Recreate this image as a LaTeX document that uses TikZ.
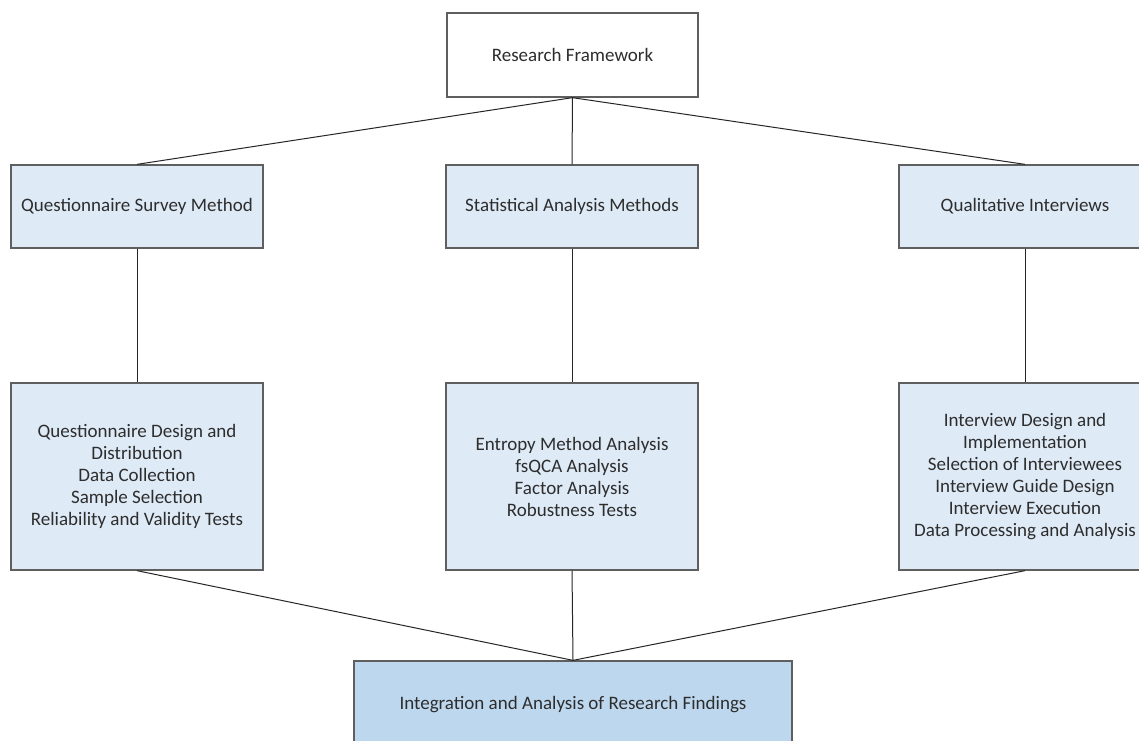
\documentclass[tikz,border=0pt]{standalone}
\usepackage{fontspec}
\setmainfont{Carlito}
\definecolor{lightbox}{RGB}{222,234,246}
\definecolor{darkbox}{RGB}{189,215,238}
\definecolor{edgegray}{RGB}{95,95,95}
\definecolor{txt}{RGB}{45,45,45}
\begin{document}
\begin{tikzpicture}[x=1pt,y=-1pt,
  box/.style={draw=edgegray,line width=1.3pt,fill=lightbox,minimum width=252pt,
    align=center,text=txt,font=\fontsize{19}{22}\selectfont,inner sep=0pt},
  topbox/.style={box,fill=white,minimum width=251pt,minimum height=84pt},
  midbox/.style={box,minimum height=83pt},
  detbox/.style={box,minimum height=187pt},
  endbox/.style={box,fill=darkbox,minimum width=438pt,minimum height=88pt},
  link/.style={draw=black!85,line width=1pt}]
\useasboundingbox (0,0) rectangle (1139,740);
\clip (0,0) rectangle (1139,740);
\fill[white] (0,0) rectangle (1139,740);
\node[topbox] (top) at (572.5,55) {Research Framework};
\node[midbox] (q1) at (137,206.5) {Questionnaire Survey Method};
\node[midbox] (q2) at (572,206.5) {Statistical Analysis Methods};
\node[midbox] (q3) at (1025,206.5) {Qualitative Interviews};
\node[detbox] (d1) at (137,476.5) {Questionnaire Design and\\Distribution\\Data Collection\\Sample Selection\\Reliability and Validity Tests};
\node[detbox] (d2) at (572,476.5) {Entropy Method Analysis\\fsQCA Analysis\\Factor Analysis\\Robustness Tests};
\node[detbox] (d3) at (1025,476.5) {Interview Design and\\Implementation\\Selection of Interviewees\\Interview Guide Design\\Interview Execution\\Data Processing and Analysis};
\node[endbox] (fin) at (573,705) {Integration and Analysis of Research Findings};
\draw[link] (top.south) -- (q1.north);
\draw[link] (top.south) -- (q2.north);
\draw[link] (top.south) -- (q3.north);
\draw[link] (q1.south) -- (d1.north);
\draw[link] (q2.south) -- (d2.north);
\draw[link] (q3.south) -- (d3.north);
\draw[link] (d1.south) -- (fin.north);
\draw[link] (d2.south) -- (fin.north);
\draw[link] (d3.south) -- (fin.north);
\end{tikzpicture}
\end{document}
